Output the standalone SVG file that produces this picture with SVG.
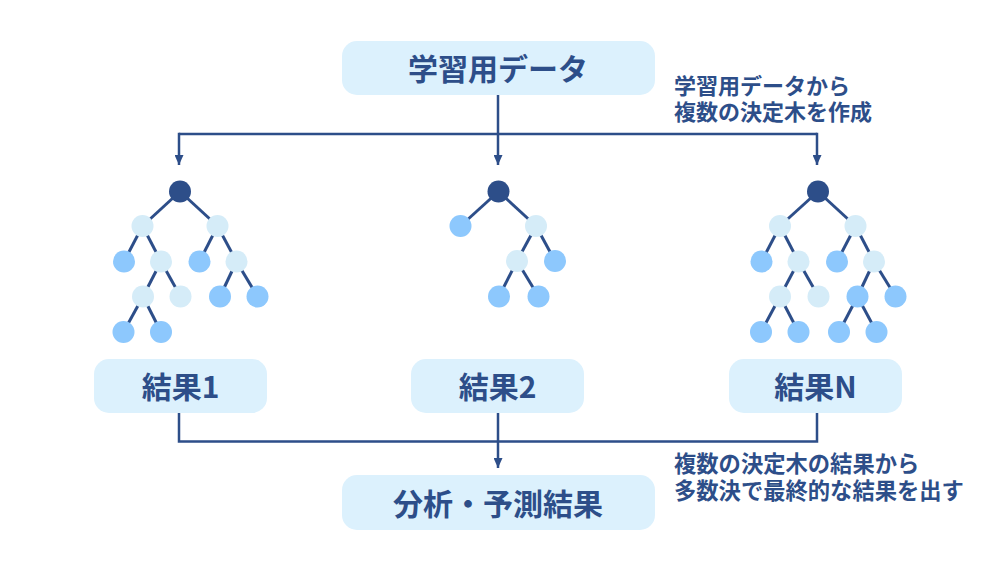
<svg xmlns="http://www.w3.org/2000/svg" width="1000" height="562" viewBox="0 0 1000 562">
<defs>
<style>
.box{fill:#dcf1fd}
.t{font-family:"Noto Sans CJK JP","Noto Sans",sans-serif;font-weight:bold;fill:#2d4e89;text-anchor:middle}
.big{font-size:30px}
.note{font-family:"Noto Sans CJK JP","Noto Sans",sans-serif;font-weight:bold;fill:#2d4e89;font-size:22px}
.ln{fill:none;stroke:#2d4e89;stroke-width:2.5}
.e{stroke:#2d4e89;stroke-width:3}
.r{fill:#2d4e89}
.l{fill:#d5ecf8}
.b{fill:#8dc8fd}
</style>
<marker id="ah" viewBox="0 0 10 9" refX="10" refY="4.5" markerWidth="10" markerHeight="9" markerUnits="userSpaceOnUse" orient="auto">
<path d="M0,0 L10,4.5 L0,9 Z" fill="#2d4e89"/>
</marker>
</defs>
<rect width="1000" height="562" fill="#ffffff"/>

<g id="connectors">
<path class="ln" d="M498,95 V165" marker-end="url(#ah)"/>
<path class="ln" d="M179,134 H817"/>
<path class="ln" d="M179,132.75 V165" marker-end="url(#ah)"/>
<path class="ln" d="M817,132.75 V165" marker-end="url(#ah)"/>
<path class="ln" d="M179,413 V441.5 H817 V413"/>
<path class="ln" d="M498,413 V468" marker-end="url(#ah)"/>
</g>

<g id="training-data">
<rect class="box" x="342" y="41" width="313" height="54" rx="15"/>
<text class="t big" x="498" y="80">学習用データ</text>
</g>

<g id="note-top">
<text class="note" x="674" y="93.5">学習用データから</text>
<text class="note" x="674" y="120">複数の決定木を作成</text>
</g>

<g id="tree1">
<g class="e">
<line x1="180" y1="191.5" x2="142.5" y2="226"/>
<line x1="180" y1="191.5" x2="217.5" y2="226"/>
<line x1="142.5" y1="226" x2="124" y2="261.5"/>
<line x1="142.5" y1="226" x2="161" y2="261.5"/>
<line x1="217.5" y1="226" x2="199.5" y2="261.5"/>
<line x1="217.5" y1="226" x2="236.5" y2="261.5"/>
<line x1="161" y1="261.5" x2="143" y2="296.5"/>
<line x1="161" y1="261.5" x2="180.5" y2="296.5"/>
<line x1="236.5" y1="261.5" x2="220" y2="296.5"/>
<line x1="236.5" y1="261.5" x2="257.5" y2="296.5"/>
<line x1="143" y1="296.5" x2="123.5" y2="332"/>
<line x1="143" y1="296.5" x2="161" y2="332"/>
</g>
<circle class="r" cx="180" cy="191.5" r="11"/>
<circle class="l" cx="142.5" cy="226" r="11"/>
<circle class="l" cx="217.5" cy="226" r="11"/>
<circle class="b" cx="124" cy="261.5" r="11"/>
<circle class="l" cx="161" cy="261.5" r="11"/>
<circle class="b" cx="199.5" cy="261.5" r="11"/>
<circle class="l" cx="236.5" cy="261.5" r="11"/>
<circle class="l" cx="143" cy="296.5" r="11"/>
<circle class="l" cx="180.5" cy="296.5" r="11"/>
<circle class="b" cx="220" cy="296.5" r="11"/>
<circle class="b" cx="257.5" cy="296.5" r="11"/>
<circle class="b" cx="123.5" cy="332" r="11"/>
<circle class="b" cx="161" cy="332" r="11"/>
</g>

<g id="tree2">
<g class="e">
<line x1="498.5" y1="191.5" x2="460.5" y2="226"/>
<line x1="498.5" y1="191.5" x2="536" y2="226"/>
<line x1="536" y1="226" x2="517" y2="261"/>
<line x1="536" y1="226" x2="555" y2="261"/>
<line x1="517" y1="261" x2="499" y2="296.5"/>
<line x1="517" y1="261" x2="538.5" y2="296.5"/>
</g>
<circle class="r" cx="498.5" cy="191.5" r="11"/>
<circle class="b" cx="460.5" cy="226" r="11"/>
<circle class="l" cx="536" cy="226" r="11"/>
<circle class="l" cx="517" cy="261" r="11"/>
<circle class="b" cx="555" cy="261" r="11"/>
<circle class="b" cx="499" cy="296.5" r="11"/>
<circle class="b" cx="538.5" cy="296.5" r="11"/>
</g>

<g id="treeN">
<g class="e">
<line x1="818" y1="191.5" x2="780" y2="226"/>
<line x1="818" y1="191.5" x2="855.5" y2="226"/>
<line x1="780" y1="226" x2="761.5" y2="261.5"/>
<line x1="780" y1="226" x2="798.5" y2="261.5"/>
<line x1="855.5" y1="226" x2="837" y2="261.5"/>
<line x1="855.5" y1="226" x2="874" y2="261.5"/>
<line x1="798.5" y1="261.5" x2="780" y2="296.5"/>
<line x1="798.5" y1="261.5" x2="818.5" y2="296.5"/>
<line x1="874" y1="261.5" x2="857.5" y2="296.5"/>
<line x1="874" y1="261.5" x2="895.5" y2="296.5"/>
<line x1="780" y1="296.5" x2="761" y2="332"/>
<line x1="780" y1="296.5" x2="798.5" y2="332"/>
<line x1="857.5" y1="296.5" x2="839" y2="332"/>
<line x1="857.5" y1="296.5" x2="876.5" y2="332"/>
</g>
<circle class="r" cx="818" cy="191.5" r="11"/>
<circle class="l" cx="780" cy="226" r="11"/>
<circle class="l" cx="855.5" cy="226" r="11"/>
<circle class="b" cx="761.5" cy="261.5" r="11"/>
<circle class="l" cx="798.5" cy="261.5" r="11"/>
<circle class="b" cx="837" cy="261.5" r="11"/>
<circle class="l" cx="874" cy="261.5" r="11"/>
<circle class="l" cx="780" cy="296.5" r="11"/>
<circle class="l" cx="818.5" cy="296.5" r="11"/>
<circle class="b" cx="857.5" cy="296.5" r="11"/>
<circle class="b" cx="895.5" cy="296.5" r="11"/>
<circle class="b" cx="761" cy="332" r="11"/>
<circle class="b" cx="798.5" cy="332" r="11"/>
<circle class="b" cx="839" cy="332" r="11"/>
<circle class="b" cx="876.5" cy="332" r="11"/>
</g>

<g id="result1">
<rect class="box" x="94" y="359" width="173" height="54" rx="15"/>
<text class="t big" x="180.5" y="397.5">結果1</text>
</g>
<g id="result2">
<rect class="box" x="411" y="359" width="173" height="54" rx="15"/>
<text class="t big" x="497.5" y="397.5">結果2</text>
</g>
<g id="resultN">
<rect class="box" x="729" y="359" width="173" height="54" rx="15"/>
<text class="t big" x="815.5" y="397.5">結果N</text>
</g>

<g id="note-bottom">
<text class="note" x="674" y="471.5" style="font-size:22.3px">複数の決定木の結果から</text>
<text class="note" x="674" y="498.5" style="font-size:22.3px">多数決で最終的な結果を出す</text>
</g>

<g id="prediction">
<rect class="box" x="342" y="475" width="313" height="55" rx="15"/>
<text class="t big" x="498" y="515">分析・予測結果</text>
</g>
</svg>
